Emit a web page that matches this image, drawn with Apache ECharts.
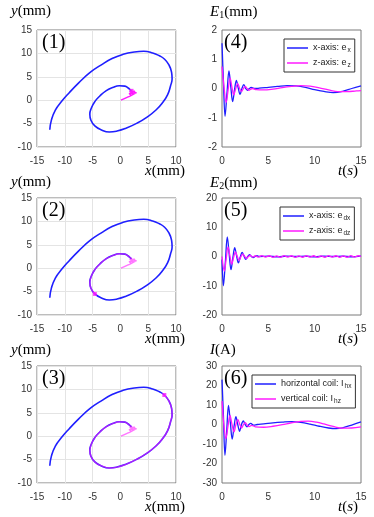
<!DOCTYPE html>
<html><head><meta charset="utf-8">
<script src="https://cdn.jsdelivr.net/npm/echarts@6/dist/echarts.min.js"></script>
<style>html,body{margin:0;padding:0;background:#fff}#c{width:374px;height:517px}</style>
</head><body><div id="c"></div>
<script>
// ---------- DATA ----------
// Blue trajectory (x, y) in mm, outer start -> inner end
const spiral = [
  [-12.7,-6.3],[-12.4,-4.2],[-11.7,-2.1],[-10.6,-0.3],[-9.2,1.6],[-7.5,3.7],[-5.5,5.9],[-3.5,7.5],
  [-1.5,8.9],[0.5,9.8],[2.5,10.3],[4.2,10.45],[5.8,10.1],[7.0,9.5],[7.9,8.8],[8.7,7.6],
  [9.2,6.0],[9.3,4.6],[9.0,3.0],[8.5,1.2],[7.6,-0.5],[6.4,-2.1],[4.8,-3.6],[3.0,-4.9],
  [1.0,-6.0],[-0.6,-6.6],[-2.0,-6.8],[-3.5,-6.3],[-4.6,-5.5],[-5.3,-4.3],[-5.5,-3.0],[-5.2,-1.6],
  [-4.6,-0.3],[-3.7,0.9],[-2.6,2.0],[-1.4,2.7],[-0.2,3.1],[0.8,3.0],[1.4,2.6],[1.8,2.2],[2.0,2.0]
];
// Magenta tail near the centre (after the spiral end)
const squiggle = [[2.2,1.5],[1.7,1.8],[2.6,1.9],[2.0,1.1],[1.6,1.4],[2.9,1.6],[1.9,1.0],[1.0,0.5],[0.1,0.0]];
// index in spiral where the magenta curve starts, panels (1),(2),(3)
const magentaStart = [40, 28, 14];

const spiralXTicks = [-15,-10,-5,0,5,10];
const spiralYTicks = [-10,-5,0,5,10,15];
const tTicks = [0,5,10,15];
const e1Ticks = [-2,-1,0,1,2];
const e2Ticks = [-20,-10,0,10,20];
const iTicks = [-30,-20,-10,0,10,20,30];

const e1x = [[0,1.55],[0.15,0.3],[0.33,-0.95],[0.54,-0.15],[0.75,0.6],[0.95,0.05],[1.15,-0.45],[1.35,-0.05],[1.55,0.28],[1.75,0.02],[1.95,-0.2],[2.15,0],[2.35,0.13],[2.55,0],[2.75,-0.06],[2.95,0],[3.15,0.04],[3.5,0],[4,0.01],[5,0.04],[6,0.07],[7,0.1],[8,0.09],[9,0.04],[10,-0.04],[11,-0.1],[12,-0.14],[13,-0.1],[14,0],[15,0.09]];
const e1z = [[0,0.75],[0.2,0.1],[0.45,-0.48],[0.66,-0.05],[0.87,0.35],[1.07,0.05],[1.27,-0.22],[1.48,0],[1.7,0.17],[1.9,0],[2.1,-0.1],[2.3,0],[2.5,0.07],[2.7,0],[2.9,-0.06],[3.1,-0.02],[3.3,0],[3.7,-0.04],[4.5,-0.05],[5.5,-0.02],[6.5,0.03],[7.5,0.07],[8.5,0.1],[9.5,0.08],[10.5,0.02],[11.5,-0.05],[12.5,-0.11],[13.5,-0.11],[14.5,-0.08],[15,-0.07]];
const e2x = [[0,-1],[0.15,-10],[0.36,-2],[0.57,6.7],[0.77,1],[0.97,-4.5],[1.17,-0.5],[1.37,3],[1.57,0.3],[1.77,-2.2],[1.97,-0.2],[2.17,1.4],[2.37,0.2],[2.57,-1],[2.77,0],[2.97,0.6],[3.17,0],[3.37,-0.4],[3.57,0],[3.77,0.25],[4,0],[5,0.1],[6,-0.1],[7,0.1],[8,0],[9,0.1],[10,-0.1],[11,0.1],[12,0],[13,0.1],[14,-0.1],[15,0.1]];
const e2z = [[0,0],[0.25,-5],[0.45,-0.8],[0.65,3.3],[0.85,0.3],[1.05,-2.6],[1.25,-0.3],[1.45,1.6],[1.65,0],[1.85,-1.3],[2.05,0],[2.25,0.8],[2.45,0],[2.65,-0.6],[2.85,0],[3.05,0.4],[3.3,-0.2],[3.6,0.25],[3.9,-0.2],[4.3,0.3],[4.7,-0.2],[5.1,0.25],[5.5,-0.3],[5.9,0.2],[6.3,-0.25],[6.7,0.3],[7.1,-0.2],[7.5,0.25],[7.9,-0.3],[8.3,0.2],[8.7,-0.25],[9.1,0.3],[9.5,-0.2],[9.9,0.25],[10.3,-0.3],[10.7,0.2],[11.1,-0.25],[11.5,0.3],[11.9,-0.2],[12.3,0.25],[12.7,-0.3],[13.1,0.2],[13.5,-0.25],[13.9,0.3],[14.3,-0.2],[14.7,0.25],[15,0]];
const ihx = [[0,23],[0.15,5],[0.32,-15.8],[0.5,-4],[0.7,9.8],[0.9,1],[1.1,-7.5],[1.3,-1],[1.5,4],[1.7,0],[1.9,-3.5],[2.1,0],[2.3,1.8],[2.5,0],[2.7,-1.2],[2.9,0],[3.1,0.6],[3.4,-0.3],[3.8,0],[4.5,0.3],[5.5,0.8],[6.5,1.2],[7.5,1.5],[8.5,1.1],[9.5,0.2],[10.5,-0.9],[11.5,-1.8],[12.3,-2.1],[13,-1.7],[14,-0.3],[15,1.3]];
const ihz = [[0,12],[0.2,0],[0.42,-7.3],[0.64,-1],[0.86,4.7],[1.08,0],[1.3,-3.8],[1.5,0],[1.72,2.5],[1.92,0],[2.12,-1.8],[2.32,0],[2.52,0.9],[2.72,-0.3],[2.92,-1.1],[3.2,-0.4],[3.6,-1.2],[4.5,-1.4],[5.5,-0.9],[6.5,-0.1],[7.5,0.9],[8.5,1.6],[9.3,1.7],[10.2,1.2],[11,0.3],[12,-1],[13,-1.9],[14,-1.8],[15,-1.2]];

const legendNames = [
  ['x-axis: e_x','z-axis: e_z'],
  ['x-axis: e_dx','z-axis: e_dz'],
  ['horizontal coil: I_hx','vertical coil: I_hz']
];

// ---------- LAYOUT / STYLE ----------
const BLUE = '#1f1fff', MAG = '#ff1aff';
const colX = [37, 222], rowY = [30, 198, 366], GW = 139, GH = 117;
const tickFont = {fontFamily:'Liberation Sans', fontSize:10, color:'#333'};
const serif = 'Liberation Serif';
const richLab = {
  i:{fontFamily:serif, fontStyle:'italic', fontWeight:'normal', fontSize:15, color:'#000'},
  n:{fontFamily:serif, fontWeight:'normal', fontSize:15, color:'#000'},
  s:{fontFamily:serif, fontWeight:'normal', fontSize:10, color:'#000', verticalAlign:'bottom', padding:[6,0,0,0]}
};

const grids = [], xAxes = [], yAxes = [], series = [], titles = [], legends = [];
function axisFrom(ticks){ return {min:ticks[0], max:ticks[ticks.length-1], interval:ticks[1]-ticks[0]}; }

for (let p = 0; p < 6; p++) {
  const col = p < 3 ? 0 : 1, row = p % 3;
  grids.push({left:colX[col], top:rowY[row], width:GW, height:GH, show:true, borderColor:'#7a7a7a', borderWidth:1, backgroundColor:'#fff'});
  const isSpiral = col === 0;
  const yt = isSpiral ? spiralYTicks : [e1Ticks, e2Ticks, iTicks][row];
  xAxes.push(Object.assign({type:'value', gridIndex:p,
    axisLine:{show:false}, axisTick:{show:false},
    axisLabel:Object.assign({margin:9}, tickFont),
    splitLine:{show:isSpiral, lineStyle:{color:'#e4e4e4', width:1}}}, axisFrom(isSpiral ? spiralXTicks : tTicks)));
  yAxes.push(Object.assign({type:'value', gridIndex:p,
    axisLine:{show:false}, axisTick:{show:false},
    axisLabel:Object.assign({margin:5}, tickFont),
    splitLine:{show:isSpiral, lineStyle:{color:'#e4e4e4', width:1}}}, axisFrom(yt)));
}

// Spiral panels
for (let r = 0; r < 3; r++) {
  const k = magentaStart[r];
  series.push({type:'line', xAxisIndex:r, yAxisIndex:r, data:spiral, smooth:0.5, showSymbol:false,
    lineStyle:{color:BLUE, width:1.6}, silent:true, z:2});
  series.push({type:'line', xAxisIndex:r, yAxisIndex:r, data:spiral.slice(k).concat(squiggle), smooth:0.3, showSymbol:false,
    lineStyle:{color:MAG, width:1.4, opacity:r===0?1:0.6}, silent:true, z:3});
  series.push({type:'scatter', xAxisIndex:r, yAxisIndex:r, data:[spiral[k]], symbol:'rect', symbolSize:4,
    itemStyle:{color:MAG}, silent:true, z:4});
}
// Time panels
const tData = [[e1x,e1z],[e2x,e2z],[ihx,ihz]];
for (let r = 0; r < 3; r++) {
  const g = 3 + r;
  [BLUE, MAG].forEach((c, j) => {
    series.push({type:'line', name:legendNames[r][j], xAxisIndex:g, yAxisIndex:g, data:tData[r][j],
      smooth:0.35, showSymbol:false, color:c, lineStyle:{color:c, width:1.3}, silent:true, z:2+j});
  });
}

// Legends
const legendPos = [[284,39],[280,207],[252,375]];
legendNames.forEach((names, r) => {
  legends.push({data:names, left:legendPos[r][0], top:legendPos[r][1], orient:'vertical',
    backgroundColor:'#fff', borderColor:'#333', borderWidth:1, borderRadius:0,
    padding:[4,4,3,3], itemGap:4, itemWidth:21, itemHeight:1.5, icon:'rect',
    selectedMode:false,
    formatter: nm => { const a = nm.split('_'); return '{n|' + a[0] + '}{s|' + a[1] + '}'; },
    textStyle:{fontFamily:'Liberation Sans', fontSize:9, color:'#222',
      rich:{n:{fontFamily:'Liberation Sans', fontSize:9, color:'#222', lineHeight:12},
            s:{fontFamily:'Liberation Sans', fontSize:6.5, color:'#222', verticalAlign:'bottom', lineHeight:12, padding:[4,0,0,1]}}}
  });
});

// Titles / axis names / panel labels
function T(text, pos, rich){ titles.push(Object.assign({text:text, padding:0, textStyle:{rich:rich||richLab, fontSize:15, fontWeight:'normal'}}, pos)); }
const pRich = {p:{fontFamily:serif, fontSize:20, fontWeight:'normal', color:'#000'}};
const yLab = ['{i|y}{n|(mm)}','{i|y}{n|(mm)}','{i|y}{n|(mm)}'];
const rLab = ['{i|E}{s|1}{n|(mm)}','{i|E}{s|2}{n|(mm)}','{i|I}{n|(A)}'];
const nameTop = [4, 175, 343];
const xNameTop = [164, 332, 500];
for (let r = 0; r < 3; r++) {
  T(yLab[r], {left:11, top:nameTop[r]});
  T(rLab[r], {left:210, top:nameTop[r]});
  T('{i|x}{n|(mm)}', {right:189, top:xNameTop[r]});
  T('{i|t}{n|(}{i|s}{n|)}', {right:16, top:xNameTop[r]});
  T('{p|(' + (r+1) + ')}', {left:42, top:rowY[r]+3}, pRich);
  T('{p|(' + (r+4) + ')}', {left:224, top:rowY[r]+3}, pRich);
}

const chart = echarts.init(document.getElementById('c'), null, {renderer:'canvas'});
chart.setOption({
  animation:false, backgroundColor:'#fff',
  grid:grids, xAxis:xAxes, yAxis:yAxes, series:series, title:titles, legend:legends
});
</script></body></html>
